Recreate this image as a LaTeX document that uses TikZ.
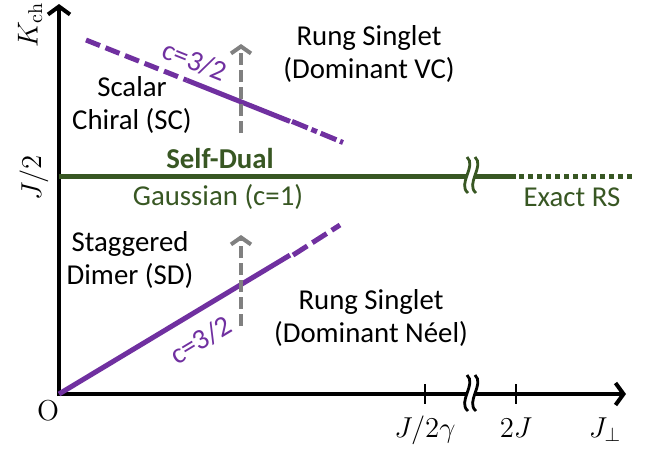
\documentclass[tikz,border=0pt]{standalone}
\usepackage[no-math]{fontspec}
\setmainfont{Carlito}
\usepackage{amsmath}
\usetikzlibrary{positioning,arrows.meta}

\definecolor{phasepurple}{HTML}{7030A0}
\definecolor{dualgreen}{HTML}{385723}
\definecolor{flowgray}{HTML}{808080}

% double wavy break mark: x, y, colour
\newcommand{\axisbreak}[3]{%
  \begin{scope}[shift={(#1,#2)}]
    \fill[white] (-3,-19) .. controls (7,-10) and (-13,8) .. (-2,17) -- (6,17)
      .. controls (-5,8) and (15,-10) .. (5,-19) -- cycle;
    \draw[#3, line width=1.4pt] (-3,-19) .. controls (7,-10) and (-13,8) .. (-2,17);
    \draw[#3, line width=1.4pt] (5,-19) .. controls (15,-10) and (-5,8) .. (6,17);
  \end{scope}}

\begin{document}
\begin{tikzpicture}[
    x=0.5pt, y=-0.5pt,
    font=\fontsize{14.4}{16.5}\selectfont,
    axis/.style={
        line width=2pt,
        -{Straight Barb[length=4pt, width=11pt]}
    },
    tick/.style={line width=1.4pt},
    region/.style={align=center, inner sep=0pt},
    axlabel/.style={inner sep=0pt, text height=9.5pt, text depth=2pt},
    critline/.style={phasepurple, line width=2.5pt},
    dualline/.style={dualgreen, line width=2.5pt},
    flow/.style={
        flowgray, line width=2pt,
        dash pattern=on 6pt off 2.5pt,
        -{Straight Barb[length=3.5pt, width=10pt]}
    }
]
\useasboundingbox (0,0) rectangle (660,451);

% axes
\coordinate (O) at (59,394);
\coordinate (ytop) at (59,4);
\coordinate (xend) at (626,394);
\coordinate (jhalf) at (59,176);
\draw[axis] ([yshift=-1pt]O) -- (ytop);
\draw[axis] ([xshift=-1pt]O) -- (xend);

\coordinate (t1) at (425,394);
\coordinate (t2) at (516,394);
\coordinate (t3) at (605,394);
\draw[tick] ([yshift=5pt]t1) -- ([yshift=-5pt]t1);
\draw[tick] ([yshift=5pt]t2) -- ([yshift=-5pt]t2);
\axisbreak{470}{394}{black}

\node[axlabel, below=12pt of t1] (lab-t1) {$J/2\gamma$};
\node[axlabel, below=12pt of t2] (lab-t2) {$2J$};
\node[axlabel, below=12pt of t3] (lab-t3) {$J_{\perp}$};
\node[axlabel] (lab-o) at (48,413) {$\mathrm{O}$};
\node[rotate=90] (lab-k) at (30,25) {$K_{\mathrm{ch}}$};
\node[rotate=90] (lab-j) at (34,178) {$J/2$};

% self-dual line
\coordinate (rs-a) at (516,176);
\coordinate (rs-b) at (632,176);
\draw[dualline] (jhalf) -- (rs-a);
\draw[dualline, dash pattern=on 2.5pt off 2pt] ([xshift=1.5pt]rs-a) -- (rs-b);
\axisbreak{470}{176}{dualgreen}

% c=3/2 lines
\coordinate (sc-a) at (86,40);
\coordinate (sc-b) at (187,80.3);
\coordinate (sc-c) at (290,121.4);
\coordinate (sc-d) at (343,142.5);
\draw[critline, dash pattern=on 7.5pt off 3pt] (sc-a) -- (sc-b);
\draw[critline] (sc-b) -- (sc-c);
\draw[critline, dash pattern=on 8.5pt off 2pt on 3pt off 2pt] ([xshift=1pt]sc-c) -- (sc-d);

\coordinate (sd-b) at (290,255.1);
\coordinate (sd-c) at (340,225);
\draw[critline] (O) -- (sd-b);
\draw[critline, dash pattern=on 8.5pt off 3pt] ([xshift=1.5pt]sd-b) -- (sd-c);

% flow arrows
\coordinate (up1-s) at (241,133);
\coordinate (up1-e) at (241,44);
\coordinate (up2-s) at (241,326);
\coordinate (up2-e) at (241,235);
\draw[flow] (up1-s) -- (up1-e);
\draw[flow] (up2-s) -- (up2-e);

% phases
\node[region] (vc) at (369,54) {Rung Singlet\\(Dominant VC)};
\node[region] (sc) at (132,105) {Scalar\\Chiral (SC)};
\node[dualgreen, font=\fontsize{14.4}{16.5}\selectfont\bfseries] (selfdual) at (220,158) {Self-Dual};
\node[dualgreen] (gauss) at (218,197) {Gaussian (c=1)};
\node[dualgreen] (exact) at (572,197) {Exact RS};
\node[region] (sd) at (130,260) {Staggered\\Dimer (SD)};
\node[region] (neel) at (371,318) {Rung Singlet\\(Dominant Néel)};
\node[phasepurple, rotate=-21.8] (c-top) at (195,61) {c=3/2};
\node[phasepurple, rotate=31] (c-bot) at (201,340) {c=3/2};
\end{tikzpicture}
\end{document}
